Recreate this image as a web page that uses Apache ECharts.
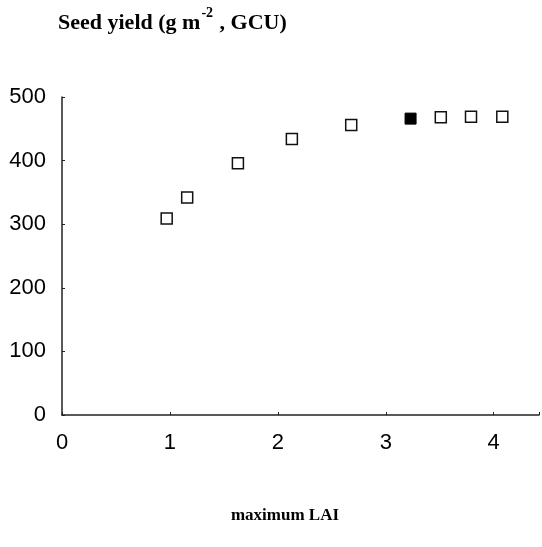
<!DOCTYPE html>
<html><head><meta charset="utf-8">
<script src="https://cdn.jsdelivr.net/npm/echarts@6/dist/echarts.min.js"></script>
<style>html,body{margin:0;padding:0;background:#fff}#c{width:542px;height:547px}</style>
</head><body><div id="c"></div>
<script>
var openLAI = [0.97, 1.16, 1.63, 2.13, 2.68, 3.51, 3.79, 4.08];
var openYield = [309, 342, 396, 434, 456, 468, 469, 469];
var filledLAI = [3.23];
var filledYield = [466];
var xTicks = [0, 1, 2, 3, 4];
var yTicks = [0, 100, 200, 300, 400, 500];

var numFont = "'Liberation Sans', Arial, sans-serif";
var chart = echarts.init(document.getElementById('c'));
chart.setOption({
  animation: false,
  backgroundColor: '#fff',
  grid: {left: 62, right: 0, top: 97, bottom: 132},
  title: [{
    text: '{a|Seed yield (g m}{s|-2}{a| , GCU)}',
    left: 53, top: 1,
    textStyle: {rich: {
      a: {fontFamily: 'Liberation Serif', fontSize: 22, fontWeight: 'bold', color: '#000', verticalAlign: 'bottom', lineHeight: 28},
      s: {fontFamily: 'Liberation Serif', fontSize: 14, fontWeight: 'bold', color: '#000', verticalAlign: 'top', lineHeight: 28, padding: [0, 1, 10, 1]}
    }}
  }, {
    text: 'maximum LAI', left: 280, top: 502, textAlign: 'center',
    textStyle: {fontFamily: 'Liberation Serif', fontSize: 17, fontWeight: 'bold', color: '#000'}
  }],
  xAxis: {
    type: 'value', min: 0, max: 4.42, interval: 1,
    axisLine: {show: true, lineStyle: {color: '#222', width: 1.5}},
    axisTick: {show: true, inside: true, length: 3, lineStyle: {color: '#222'}},
    splitLine: {show: false},
    axisLabel: {margin: 17, fontFamily: numFont, fontSize: 22, color: '#000',
      formatter: function (v) { return xTicks.indexOf(v) >= 0 ? String(v) : ''; }}
  },
  yAxis: {
    type: 'value', min: 0, max: 500, interval: 100,
    axisLine: {show: true, lineStyle: {color: '#222', width: 1.5}},
    axisTick: {show: true, inside: true, length: 3, lineStyle: {color: '#222'}},
    splitLine: {show: false},
    axisLabel: {margin: 16, fontFamily: numFont, fontSize: 22, color: '#000',
      formatter: function (v) { return yTicks.indexOf(v) >= 0 ? String(v) : ''; }}
  },
  series: [{
    type: 'scatter', symbol: 'rect', symbolSize: 11,
    data: openLAI.map(function (x, i) { return [x, openYield[i]]; }),
    itemStyle: {color: '#fff', borderColor: '#111', borderWidth: 1.5, opacity: 1}
  }, {
    type: 'scatter', symbol: 'rect', symbolSize: 11,
    data: filledLAI.map(function (x, i) { return [x, filledYield[i]]; }),
    itemStyle: {color: '#000', borderColor: '#000', borderWidth: 1, opacity: 1}
  }]
});
</script></body></html>
